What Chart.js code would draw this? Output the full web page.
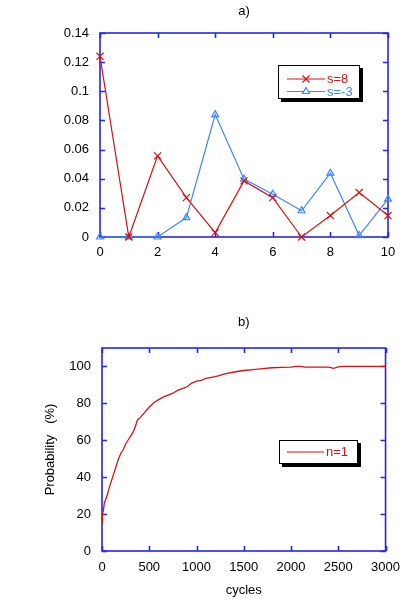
<!DOCTYPE html>
<html><head><meta charset="utf-8">
<script src="https://cdn.jsdelivr.net/npm/chart.js@4/dist/chart.umd.min.js"></script>
<style>
html,body{margin:0;padding:0;background:#fff;}
#wrap{position:relative;width:409px;height:601px;overflow:hidden;}
.box{position:absolute;left:0;}
</style></head><body>
<div id="wrap">
<div class="box" style="top:0;width:409px;height:300px"><canvas id="ca" width="409" height="300"></canvas></div>
<div class="box" style="top:300px;width:409px;height:301px"><canvas id="cb" width="409" height="301"></canvas></div>
</div>
<script>
// ---- Chart a) data ----
const xValuesA = [0,1,2,3,4,5,6,7,8,9,10];
const seriesS8 = [0.124,0,0.0557,0.027,0.003,0.0385,0.027,0,0.0147,0.0305,0.0147];
const seriesSm3 = [0,0,0,0.0133,0.084,0.0397,0.0293,0.018,0.0438,0.001,0.026];
const yTicksA = [0,0.02,0.04,0.06,0.08,0.1,0.12,0.14];
const xTicksA = [0,2,4,6,8,10];
const legendA = ['s=8','s=-3'];
// ---- Chart b) data ----
const cyclesB = [0,5,15,25,40,60,80,100,125,150,175,200,225,250,275,300,325,350,375,400,450,500,550,600,650,700,750,800,850,900,950,1000,1050,1100,1200,1300,1400,1500,1600,1700,1800,1900,2000,2050,2100,2150,2400,2450,2500,2550,3000];
const probB   = [15,20,22,26,28,31,35,38,42,46,50,53,55,58,60,62,64,67,71,72,75,78,80.5,82,83.5,84.5,85.5,87,88,89,91,92,92.5,93.5,94.5,96,97,97.8,98.3,98.8,99.3,99.5,99.6,100,100,99.6,99.6,99,99.8,100,100];
const yTicksB = [0,20,40,60,80,100];
const xTicksB = [0,500,1000,1500,2000,2500,3000];
const legendB = ['n=1'];

const RED = '#d01515';
const BLUE = '#3d86ff';
const AXIS = '#2626e0';
const FONT = "'Liberation Sans', Arial, sans-serif";
Chart.defaults.font.family = FONT;
Chart.defaults.font.size = 13;
Chart.defaults.color = '#000';

const framePlugin = {
  id: 'frame',
  beforeDatasetsDraw(chart) {
    const {ctx, chartArea: a, scales: {x, y}} = chart;
    ctx.save();
    ctx.strokeStyle = AXIS;
    ctx.lineWidth = 1.6;
    ctx.strokeRect(a.left, a.top, a.right - a.left, a.bottom - a.top);
    const L = 5;
    ctx.beginPath();
    x.ticks.forEach(t => {
      const px = Math.round(x.getPixelForValue(t.value)) + 0.5;
      ctx.moveTo(px, a.bottom); ctx.lineTo(px, a.bottom - L);
      ctx.moveTo(px, a.top); ctx.lineTo(px, a.top + L);
    });
    y.ticks.forEach(t => {
      const py = Math.round(y.getPixelForValue(t.value)) + 0.5;
      ctx.moveTo(a.left, py); ctx.lineTo(a.left + L, py);
      ctx.moveTo(a.right, py); ctx.lineTo(a.right - L, py);
    });
    ctx.stroke();
    ctx.restore();
  }
};

const boxLegendPlugin = {
  id: 'boxLegend',
  afterDraw(chart, args, opts) {
    const {ctx} = chart;
    const b = opts.box;
    ctx.save();
    ctx.fillStyle = '#000';
    ctx.fillRect(b.x + 3, b.y + 3, b.w, b.h);
    ctx.fillStyle = '#fff';
    ctx.fillRect(b.x, b.y, b.w, b.h);
    ctx.strokeStyle = '#000';
    ctx.lineWidth = 1;
    ctx.strokeRect(b.x + 0.5, b.y + 0.5, b.w - 1, b.h - 1);
    chart.data.datasets.forEach((ds, i) => {
      const yy = opts.rows[i];
      ctx.strokeStyle = ds.borderColor;
      ctx.lineWidth = 1.2;
      ctx.beginPath();
      ctx.moveTo(opts.x0, yy); ctx.lineTo(opts.x1, yy);
      ctx.stroke();
      if (ds.pointRadius > 0) {
        ctx.fillStyle = '#fff';
        Chart.helpers.drawPoint(ctx, {pointStyle: ds.pointStyle, radius: ds.pointRadius, borderWidth: 1.2, rotation: 0}, (opts.x0 + opts.x1) / 2, yy);
      }
      ctx.fillStyle = ds.borderColor;
      ctx.font = '13px ' + FONT;
      ctx.textBaseline = 'middle';
      ctx.textAlign = 'left';
      ctx.fillText(ds.label, opts.x1 + 2, yy + 0.5);
    });
    ctx.restore();
  }
};

// ---------- Chart a ----------
new Chart(document.getElementById('ca'), {
  type: 'line',
  data: {
    datasets: [
      {label: legendA[0], data: xValuesA.map((x, i) => ({x, y: seriesS8[i]})), borderColor: RED, backgroundColor: RED,
       borderWidth: 1.2, pointStyle: 'crossRot', pointRadius: 5, pointBorderWidth: 1.2, tension: 0, clip: false},
      {label: legendA[1], data: xValuesA.map((x, i) => ({x, y: seriesSm3[i]})), borderColor: BLUE, backgroundColor: 'rgba(0,0,0,0)',
       borderWidth: 1.2, pointStyle: 'triangle', pointRadius: 4, pointBorderWidth: 1.2, tension: 0, clip: false}
    ]
  },
  options: {
    responsive: false, animation: false,
    layout: {padding: {left: 0, right: 21, top: 0, bottom: 0}},
    plugins: {
      legend: {display: false}, tooltip: {enabled: false},
      title: {display: true, text: 'a)', fullSize: false, color: '#000', font: {size: 13, weight: 'normal'}, padding: {top: 4, bottom: 13.4}},
      boxLegend: {box: {x: 278, y: 65, w: 82, h: 34}, rows: [79, 91.5], x0: 287, x1: 325}
    },
    scales: {
      x: {type: 'linear', min: 0, max: 10,
          afterBuildTicks: s => { s.ticks = xTicksA.map(v => ({value: v})); },
          afterFit: s => { s.height = 63; },
          grid: {display: false, drawTicks: false}, border: {display: false},
          ticks: {padding: 8, maxRotation: 0, autoSkip: false, color: '#000'}},
      y: {type: 'linear', min: 0, max: 0.14,
          afterBuildTicks: s => { s.ticks = yTicksA.map(v => ({value: v})); },
          afterFit: s => { s.width = 100; },
          grid: {display: false, drawTicks: false}, border: {display: false},
          ticks: {padding: 11, autoSkip: false, color: '#000', callback: v => String(parseFloat(v.toFixed(6)))}}
    }
  },
  plugins: [framePlugin, boxLegendPlugin]
});

// ---------- Chart b ----------
new Chart(document.getElementById('cb'), {
  type: 'line',
  data: {
    datasets: [
      {label: legendB[0], data: cyclesB.map((x, i) => ({x, y: probB[i]})), borderColor: RED, backgroundColor: RED,
       borderWidth: 1.3, pointRadius: 0, tension: 0, clip: false}
    ]
  },
  options: {
    responsive: false, animation: false,
    layout: {padding: {left: 0, right: 19, top: 0, bottom: 0}},
    plugins: {
      legend: {display: false}, tooltip: {enabled: false},
      title: {display: true, text: 'b)', fullSize: false, color: '#000', font: {size: 13, weight: 'normal'}, padding: {top: 15, bottom: 17.4}},
      boxLegend: {box: {x: 279, y: 140, w: 79, h: 24}, rows: [152], x0: 287, x1: 324}
    },
    scales: {
      x: {type: 'linear', min: 0, max: 3000,
          afterBuildTicks: s => { s.ticks = xTicksB.map(v => ({value: v})); },
          afterFit: s => { s.height = 50; },
          grid: {display: false, drawTicks: false}, border: {display: false},
          title: {display: true, text: 'cycles', color: '#000', font: {size: 13}, padding: {top: 0, bottom: 3}},
          ticks: {padding: 9, maxRotation: 0, autoSkip: false, color: '#000', callback: v => String(v)}},
      y: {type: 'linear', min: 0, max: 110,
          afterBuildTicks: s => { s.ticks = yTicksB.map(v => ({value: v})); },
          afterFit: s => { s.width = 102; },
          grid: {display: false, drawTicks: false}, border: {display: false},
          title: {display: true, text: 'Probability   (%)', color: '#000', font: {size: 13}, padding: {top: 43, bottom: 0}},
          ticks: {padding: 11, autoSkip: false, color: '#000', callback: v => String(v)}}
    }
  },
  plugins: [framePlugin, boxLegendPlugin]
});
</script>
</body></html>
